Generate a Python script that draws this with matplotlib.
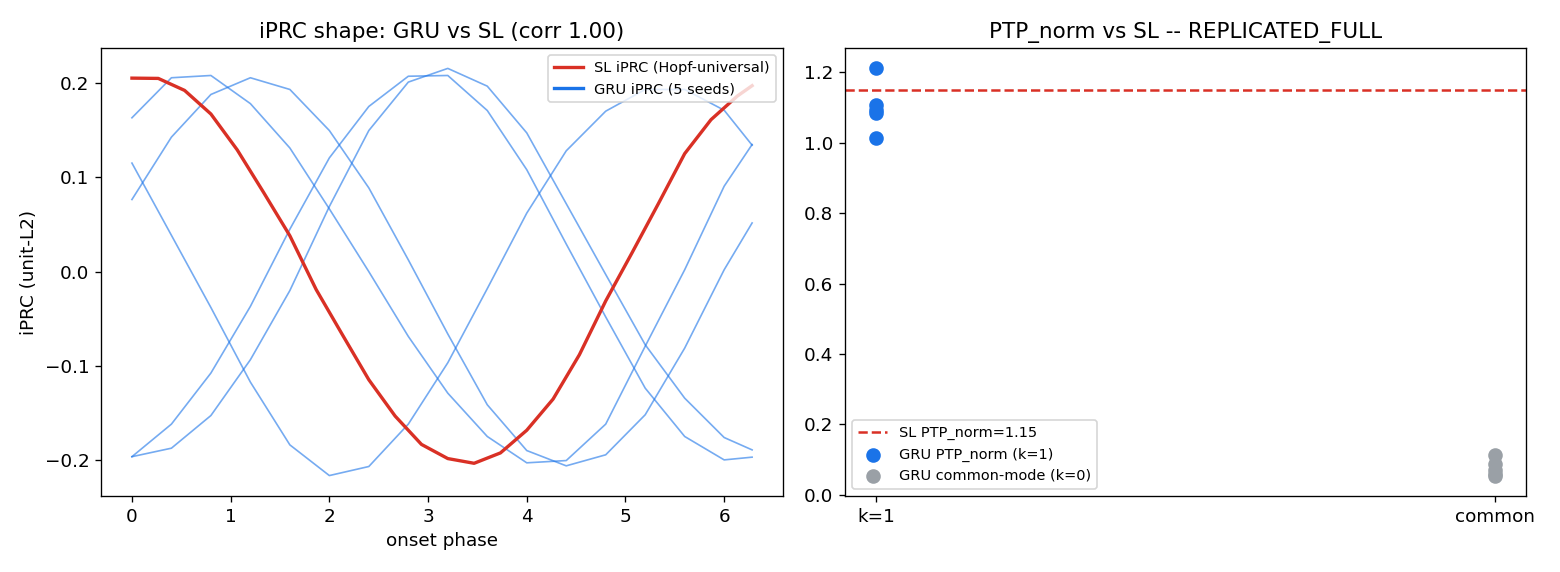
import numpy as np
import matplotlib
matplotlib.use("Agg")
import matplotlib.pyplot as plt
from matplotlib.lines import Line2D

# ---------------- data ----------------
# SL iPRC sampled on a fine onset-phase grid (closed at 2*pi)
sl_phase = list(np.arange(24) * 4.0 / 15.0) + [2 * np.pi]
sl_iprc = [0.205, 0.2047, 0.192, 0.167, 0.129, 0.084, 0.038, -0.019, -0.067,
           -0.1145, -0.153, -0.183, -0.198, -0.203, -0.192, -0.168, -0.135,
           -0.088, -0.031, 0.020, 0.072, 0.125, 0.161, 0.186, 0.197]

# GRU iPRC (5 seeds) on the coarse onset-phase grid (closed at 2*pi)
gru_phase = list(np.arange(16) * 0.4) + [2 * np.pi]
gru_seed_a = [0.163, 0.2054, 0.2078, 0.178, 0.131, 0.0665, 0.000, -0.0686, -0.1287,
              -0.1746, -0.2025, -0.2001, -0.1615, -0.079, 0.002, 0.0905, 0.1347]
gru_seed_b = [0.115, 0.0385, -0.038, -0.117, -0.1835, -0.216, -0.2064, -0.1615,
              -0.0965, -0.018, 0.062, 0.128, 0.170, 0.193, 0.193, 0.171, 0.134]
gru_seed_c = [0.0764, 0.1425, 0.1877, 0.2054, 0.193, 0.1495, 0.0887, 0.0125, -0.066,
              -0.141, -0.1895, -0.2057, -0.194, -0.1516, -0.081, 0.002, 0.0516]
gru_seed_d = [-0.196, -0.1615, -0.1074, -0.0368, 0.045, 0.1205, 0.175, 0.207, 0.2078,
              0.1707, 0.108, 0.0293, -0.048, -0.1234, -0.1746, -0.1994, -0.1965]
gru_seed_e = [-0.196, -0.187, -0.1524, -0.0933, -0.02, 0.069, 0.1495, 0.2008, 0.2153,
              0.1965, 0.147, 0.072, -0.003, -0.0774, -0.134, -0.1757, -0.1888]
gru_seeds = [gru_seed_a, gru_seed_b, gru_seed_c, gru_seed_d, gru_seed_e]

# PTP_norm panel
ptp_categories = ["k=1", "common"]
sl_ptp_norm = 1.15
gru_ptp_k1 = [1.211, 1.106, 1.092, 1.083, 1.014]
gru_ptp_common = [0.112, 0.088, 0.070, 0.060, 0.055]

# ---------------- style ----------------
RED = "#d93025"
BLUE = "#1a73e8"
GRAY = "#9aa0a6"
plt.rcParams["font.size"] = 11

fig = plt.figure(figsize=(13.0, 5.72 / 1.2), dpi=120)
ax1 = fig.add_axes([0.0647, 0.133, 0.4373, 0.783])
ax2 = fig.add_axes([0.5417, 0.133, 0.4365, 0.783])

# ---- left panel ----
for seed in gru_seeds:
    ax1.plot(gru_phase, seed, color=BLUE, lw=1.0, alpha=0.6)
ax1.plot(sl_phase, sl_iprc, color=RED, lw=2.0)
ax1.set_title("iPRC shape: GRU vs SL (corr 1.00)", fontsize=12.9)
ax1.set_xlabel("onset phase")
ax1.set_ylabel("iPRC (unit-L2)")
ax1.set_yticks([-0.2, -0.1, 0.0, 0.1, 0.2])
handles1 = [Line2D([], [], color=RED, lw=2.0, label="SL iPRC (Hopf-universal)"),
            Line2D([], [], color=BLUE, lw=2.0, label="GRU iPRC (5 seeds)")]
ax1.legend(handles=handles1, loc="upper right", fontsize=8.7)

# ---- right panel ----
ax2.axhline(sl_ptp_norm, color=RED, ls="--", lw=1.5,
            label=f"SL PTP_norm={sl_ptp_norm:.2f}")
ax2.scatter([0] * len(gru_ptp_k1), gru_ptp_k1, color=BLUE, s=60, zorder=3,
            label="GRU PTP_norm (k=1)")
ax2.scatter([1] * len(gru_ptp_common), gru_ptp_common, color=GRAY, s=60, zorder=3,
            label="GRU common-mode (k=0)")
ax2.set_xticks([0, 1])
ax2.set_xticklabels(ptp_categories)
ax2.set_title("PTP_norm vs SL -- REPLICATED_FULL", fontsize=12.9)
ax2.legend(loc="lower left", fontsize=8.7)

fig.savefig("out.png", dpi=120)
